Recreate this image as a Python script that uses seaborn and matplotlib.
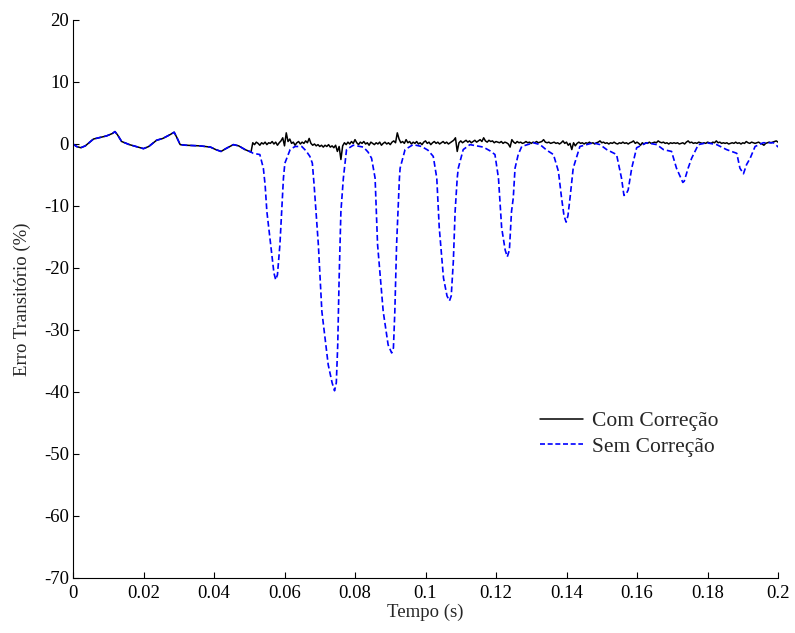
import numpy as np
import pandas as pd
import matplotlib
matplotlib.use("Agg")
import matplotlib.pyplot as plt
import seaborn as sns

# ---------------- data ----------------
# common initial part (both curves identical before t = 0.051 s)
t_init = [0.0, 0.001, 0.0022, 0.0035, 0.0058, 0.0095, 0.0112, 0.0119, 0.0126, 0.0138,
          0.016, 0.0185, 0.020, 0.0215, 0.0237, 0.0255, 0.0275, 0.0287, 0.0295, 0.0304,
          0.032, 0.036, 0.039, 0.0405, 0.042, 0.0435, 0.0455, 0.047, 0.0488, 0.0505]
v_init = [0.0, -0.4, -0.6, -0.3, 0.8, 1.3, 1.7, 2.0, 1.5, 0.4,
          -0.1, -0.5, -0.75, -0.4, 0.6, 0.9, 1.5, 1.9, 1.0, -0.1,
          -0.2, -0.3, -0.5, -0.9, -1.2, -0.7, -0.1, -0.3, -0.9, -1.3]

# "Sem Correção" after t = 0.0505 s
t_sem = [0.0511, 0.0530, 0.0535, 0.0540, 0.0545, 0.0550, 0.0564, 0.0570, 0.0575, 0.0580,
         0.0587, 0.0592, 0.0597, 0.0601, 0.0616, 0.0630, 0.0649, 0.0661, 0.0672, 0.0679,
         0.0684, 0.0696, 0.0706, 0.0724, 0.0735, 0.0742, 0.0747, 0.0751, 0.0755, 0.0760,
         0.0767, 0.0776, 0.0795, 0.0824, 0.0837, 0.0847,
         0.0857, 0.0864, 0.0880, 0.0894, 0.0904, 0.0909, 0.0913, 0.0918, 0.0926, 0.0928,
         0.0942, 0.0965, 0.0989, 0.1007, 0.1022,
         0.1032, 0.1039, 0.1051, 0.1061, 0.1068, 0.1073, 0.1079, 0.1084, 0.1090, 0.1093,
         0.1107, 0.1126, 0.1164, 0.1183, 0.1197,
         0.1207, 0.1216, 0.1226, 0.1232, 0.1238, 0.1244, 0.1249, 0.1254, 0.1263, 0.1273,
         0.1306, 0.1325, 0.1344, 0.1363, 0.1377,
         0.1386, 0.1393, 0.1399, 0.1404, 0.1410, 0.1419, 0.1438, 0.1476, 0.1495, 0.1514,
         0.1542, 0.1556,
         0.1563, 0.1569, 0.1575, 0.1585, 0.1599, 0.1627, 0.1656, 0.1675, 0.1698, 0.1712,
         0.1730, 0.1734, 0.1745, 0.1755, 0.1774, 0.1798, 0.1826, 0.1854, 0.1883, 0.1892,
         0.1902, 0.1911, 0.1921, 0.1935, 0.1958, 0.1987, 0.2001]
v_sem = [-1.5, -1.7, -2.8, -3.9, -6.6, -10.9, -17.9, -20.8, -21.9, -21.1,
         -16.2, -10.9, -5.5, -3.1, -0.9, -0.4, -0.4, -1.1, -2.0, -3.1,
         -6.6, -16.2, -27.0, -35.6, -38.5, -39.8, -38.5, -32.4, -21.6, -10.9,
         -5.5, -0.9, -0.2, -0.5, -1.3, -2.3,
         -5.5, -16.2, -27.0, -32.4, -33.7, -32.9, -27.0, -16.2, -5.5, -3.9,
         -0.9, -0.1, -0.4, -1.0, -2.0,
         -5.5, -13.5, -21.6, -24.5, -25.3, -24.5, -18.9, -10.9, -5.5, -3.9,
         -0.9, -0.1, -0.5, -1.1, -1.7,
         -5.5, -13.5, -17.1, -18.2, -17.1, -10.9, -8.7, -3.9, -1.7, -0.4,
         0.2, -0.1, -1.0, -1.7, -4.4,
         -8.7, -11.6, -12.6, -11.6, -8.7, -3.9, -0.4, 0.2, -0.1, -0.9,
         -1.7, -5.5,
         -8.3, -8.1, -7.4, -3.9, -0.6, 0.2, -0.1, -0.9, -1.2, -3.9,
         -6.2, -6.0, -3.9, -2.3, -0.1, 0.2, -0.1, -0.9, -1.5, -3.9,
         -4.8, -3.3, -2.3, -0.4, 0.2, 0.2, -0.5]

# "Com Correção" after t = 0.051 s, sampled every 0.5 ms
com_start, com_end = 0.051, 0.200
v_com = [
    0.2, -0.1, 0.3, 0.1, -0.2, 0.2, 0.0, 0.3, -0.1, 0.2, 0.1, 0.4, 0.0, 0.3, -0.2, 0.2, 0.5, 1.0, -0.3, 1.8,
    0.4, 0.8, 0.1, 0.3, -0.2, 0.2, 0.4, 0.0, 0.3, 0.1, 0.5, 0.2, 0.9, 0.1, -0.2, 0.0, -0.3, -0.1, -0.4, -0.2,
    -0.5, -0.2, -0.4, -0.1, -0.5, -0.3, -0.6, -0.2, -1.2, -0.4, -2.5, -0.3, 0.2, -0.1, 0.3, 0.0, 0.4, 0.1, 0.7, 0.2,
    -0.1, 0.3, 0.1, 0.4, 0.0, 0.2, -0.2, 0.3, 0.1, -0.1, 0.2, 0.0, 0.3, -0.2, 0.1, 0.3, 0.0, 0.2, -0.1, 0.3,
    0.5, 0.2, 1.8, 0.8, 0.2, 0.4, 0.1, 0.7, 0.2, 0.4, 0.0, 0.3, 0.1, 0.4, 0.0, 0.2, -0.1, 0.3, 0.5, 0.1,
    0.3, -0.1, 0.2, 0.4, 0.1, 0.3, 0.0, 0.2, 0.4, 0.1, 0.3, 0.0, 0.2, 0.4, 0.6, 1.0, -1.2, 0.2, 0.5, 0.2,
    0.4, 0.6, 0.3, 0.5, 0.2, 0.4, 0.6, 0.3, 0.5, 0.7, 0.4, 1.0, 0.5, 0.3, 0.6, 0.4, 0.5, 0.2, 0.4, 0.3,
    0.2, 0.4, 0.1, 0.3, 0.2, 0.0, -0.5, 0.7, 0.3, 0.1, 0.4, 0.2, 0.3, 0.1, 0.2, 0.4, 0.2, 0.3, 0.1, 0.3,
    0.2, 0.4, 0.2, 0.3, 0.4, 0.7, 0.3, 0.2, 0.3, 0.1, 0.2, 0.3, 0.1, 0.2, 0.0, 0.2, 0.5, 0.1, 0.3, -0.2,
    0.1, -0.9, 0.2, -0.3, 0.1, 0.3, 0.1, 0.2, 0.0, 0.2, 0.1, 0.3, 0.1, 0.2, 0.0, 0.2, 0.3, 0.5, 0.2, 0.3,
    0.1, 0.2, 0.0, 0.2, 0.1, 0.3, 0.1, 0.0, 0.2, 0.1, 0.3, 0.1, 0.2, 0.0, 0.2, 0.3, 0.5, 0.1, 0.3, 0.1,
    -0.2, 0.2, 0.0, 0.2, 0.1, 0.3, 0.1, 0.2, 0.3, 0.2, 0.5, 0.3, 0.2, 0.3, 0.1, 0.2, 0.0, 0.2, 0.1, 0.2,
    0.1, 0.2, 0.0, 0.1, 0.2, 0.0, 0.3, 0.5, 0.2, 0.3, 0.1, 0.2, 0.1, 0.3, 0.2, 0.1, 0.2, 0.1, 0.3, 0.2,
    0.1, 0.3, 0.2, 0.5, 0.2, 0.3, 0.1, 0.2, 0.1, 0.2, 0.0, 0.1, 0.2, 0.1, 0.3, 0.1, 0.2, 0.0, 0.2, 0.1,
    0.4, 0.2, 0.1, 0.3, 0.2, 0.1, 0.2, 0.3, 0.1, 0.0, -0.2, 0.1, 0.2, 0.3, 0.2, 0.3, 0.4, 0.5, 0.3]

x_ticks = [0, 0.02, 0.04, 0.06, 0.08, 0.1, 0.12, 0.14, 0.16, 0.18, 0.2]
x_ticklabels = ["0", "0.02", "0.04", "0.06", "0.08", "0.1", "0.12", "0.14", "0.16", "0.18", "0.2"]
y_ticks = [-70, -60, -50, -40, -30, -20, -10, 0, 10, 20]
y_ticklabels = ["-70", "-60", "-50", "-40", "-30", "-20", "-10", "0", "10", "20"]

label_com = "Com Correção"
label_sem = "Sem Correção"

# ---------------- build frames ----------------
t_com = list(np.linspace(com_start, com_end, len(v_com)))
df_com = pd.DataFrame({"t": t_init + t_com, "v": v_init + v_com})
df_sem = pd.DataFrame({"t": t_init + t_sem, "v": v_init + v_sem})

# ---------------- style ----------------
sns.set_style("ticks")
plt.rcParams["font.family"] = ["Liberation Serif", "DejaVu Serif"]
plt.rcParams["axes.unicode_minus"] = False
plt.rcParams["xtick.direction"] = "in"
plt.rcParams["ytick.direction"] = "in"

fig = plt.figure(figsize=(7.95, 6.33), dpi=100)
ax = fig.add_axes([73 / 795, 1 - 578 / 633, 705 / 795, 558 / 633])

sns.lineplot(data=df_com, x="t", y="v", ax=ax, color="black", lw=1.1,
             estimator=None, sort=False, label=label_com)
sns.lineplot(data=df_sem, x="t", y="v", ax=ax, color="#0000FF", lw=1.2,
             estimator=None, sort=False, label=label_sem)
ax.lines[-1].set_dashes([3.5, 1.8])

ax.set_xlim(0, 0.2)
ax.set_ylim(-70, 20)
ax.set_xticks(x_ticks)
ax.set_xticklabels(x_ticklabels)
ax.set_yticks(y_ticks)
ax.set_yticklabels(y_ticklabels)
ax.tick_params(axis="both", labelsize=13.5, length=4.5, width=0.8, color="black",
               labelcolor="black")
ax.tick_params(axis="x", pad=5)
ax.tick_params(axis="y", pad=3)
for s in ["top", "right"]:
    ax.spines[s].set_visible(False)
for s in ["left", "bottom"]:
    ax.spines[s].set_color("black")
    ax.spines[s].set_linewidth(0.8)

ax.set_xlabel("Tempo (s)", fontsize=13.5, labelpad=1)
ax.set_ylabel("Erro Transitório (%)", fontsize=13.5, labelpad=9)

leg = ax.legend(loc="center left", bbox_to_anchor=((540 - 73) / 705, (578 - 434) / 558),
                frameon=False, fontsize=15.5, handlelength=2.0, handletextpad=0.4,
                labelspacing=0.25, borderpad=0, borderaxespad=0)
leg.get_lines()[1].set_dashes([3.0, 1.6])

fig.savefig("out.png", dpi=100)
